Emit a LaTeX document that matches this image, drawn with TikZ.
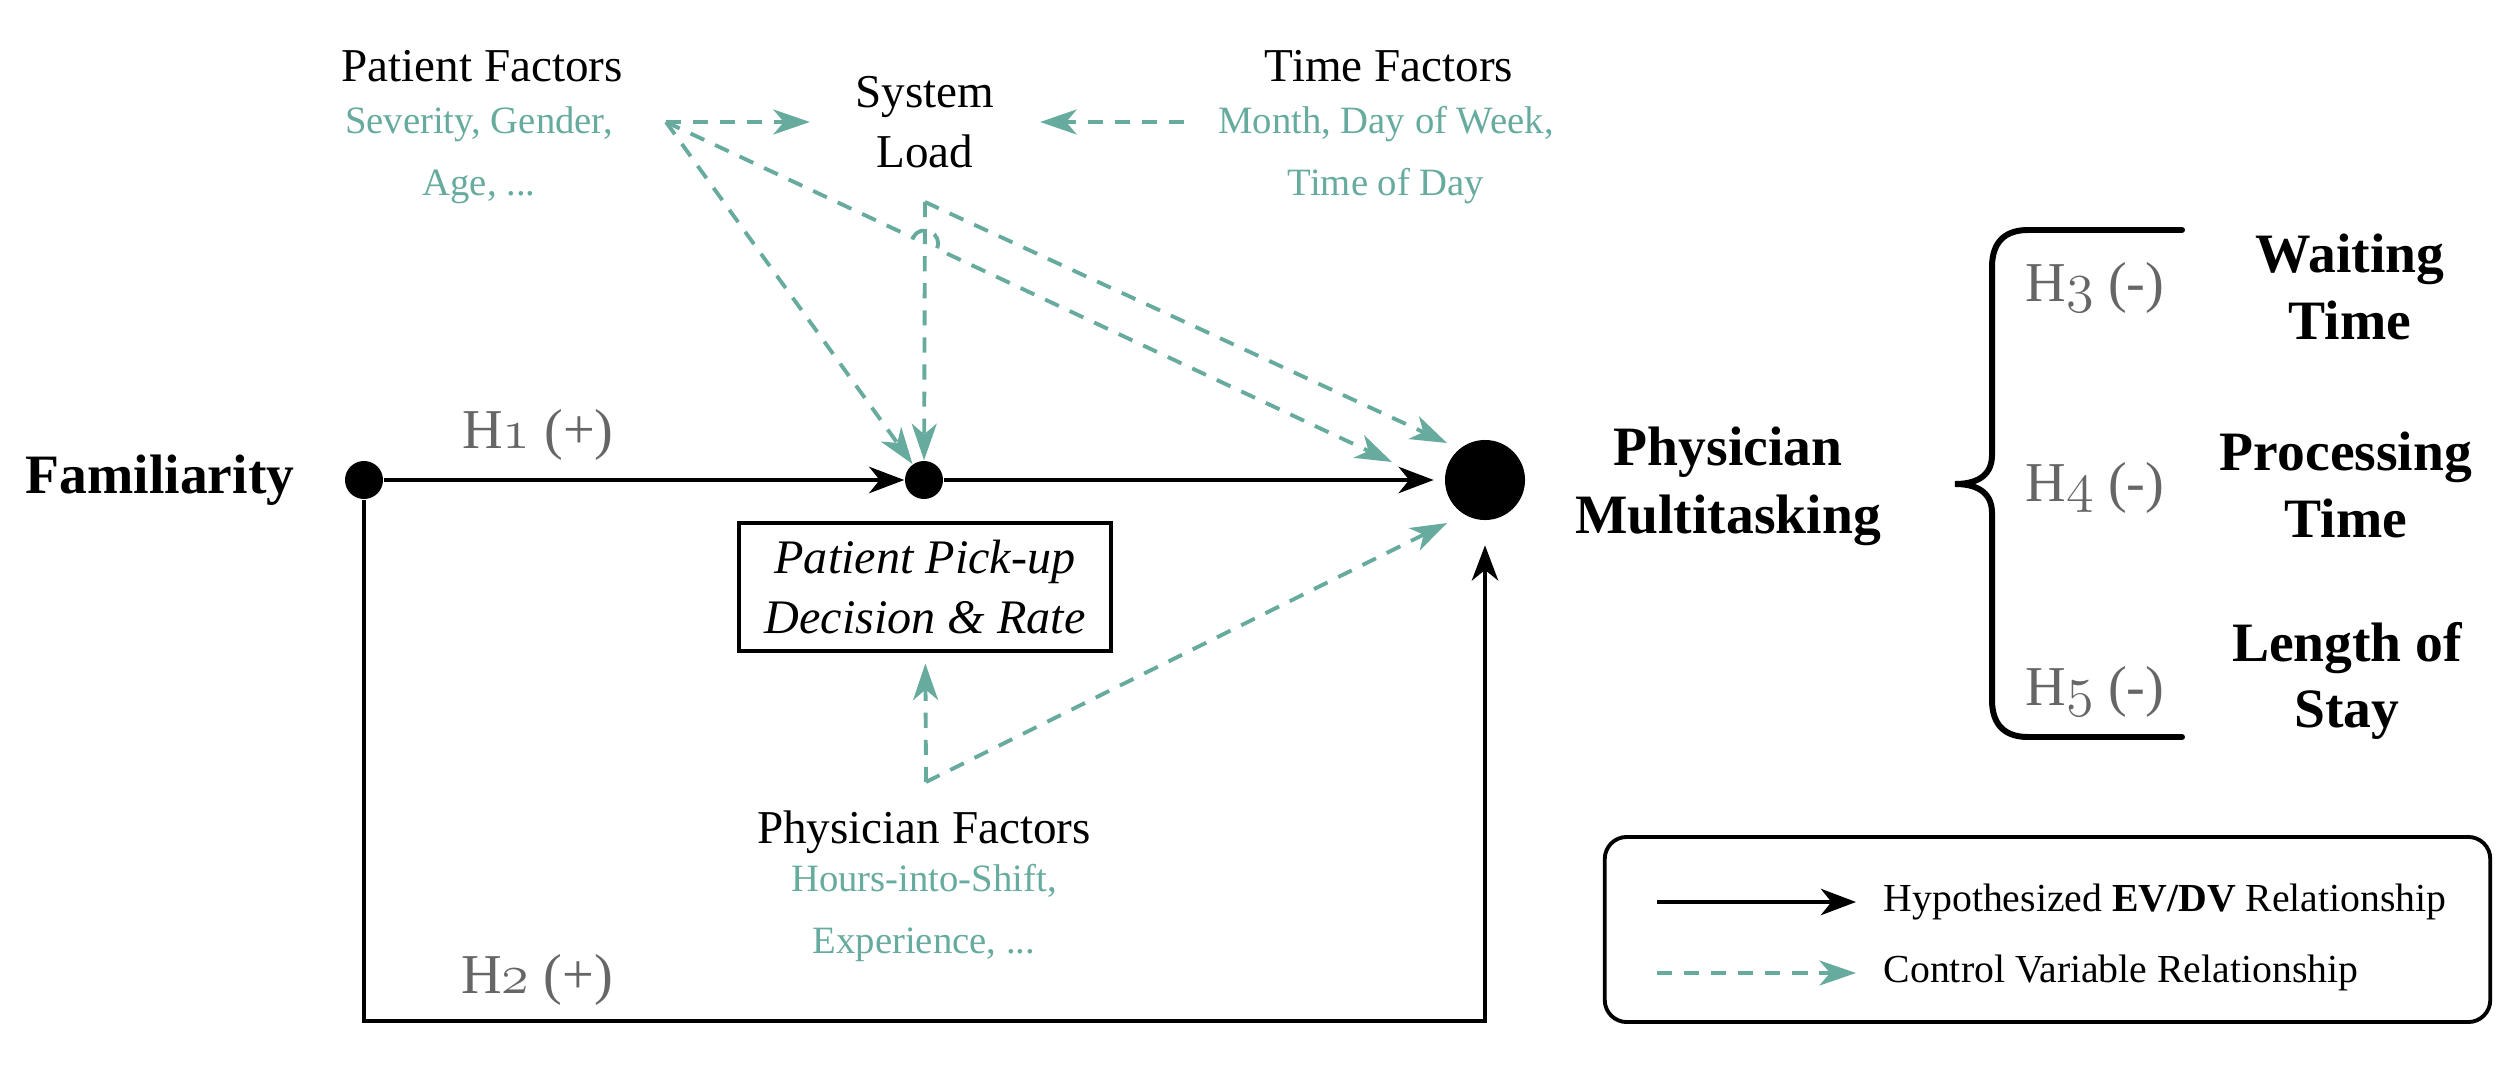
\documentclass[tikz,border=0pt]{standalone}
\usepackage{fix-cm}
\usepackage{fontspec}
\setmainfont{Liberation Serif}
\usetikzlibrary{arrows.meta}
\definecolor{tgreen}{HTML}{67AB9F}
\definecolor{hgray}{HTML}{666666}
\newcommand{\osn}[1]{$\mathnormal{#1}$}
\tikzset{
  dot/.style={circle, fill=black, inner sep=0pt},
  lab/.style={inner sep=0pt, align=center, font=\fontsize{13.4}{17}\selectfont},
  det/.style={inner sep=0pt, align=center, text=tgreen, font=\fontsize{11}{17.6}\selectfont},
  bigtxt/.style={inner sep=0pt, align=center, font=\fontsize{15.8}{19.3}\selectfont\bfseries},
  outc/.style={inner sep=0pt, align=center, font=\fontsize{15.8}{19}\selectfont\bfseries},
  hlab/.style={inner sep=0pt, text=hgray, font=\fontsize{16}{19}\selectfont},
  pickbox/.style={draw, line width=1.1pt, inner sep=0pt, align=center, minimum width=3.71cm, minimum height=1.28cm, font=\fontsize{13.7}{17}\selectfont\itshape},
  leg/.style={inner sep=0pt, anchor=west, font=\fontsize{11.3}{14}\selectfont},
  hyp/.style={line width=1.15pt, -{Stealth[length=10pt,width=7.5pt,inset=3pt]}},
  ctrl/.style={draw=tgreen, line width=1.1pt, dash pattern=on 4.3pt off 3.4pt, -{Stealth[length=10.4pt,width=7.1pt,inset=3pt,fill=tgreen]}},
}
\begin{document}
\begin{tikzpicture}[x=0.01cm,y=-0.01cm]
\useasboundingbox (0,0) rectangle (2512,1076);

% dots
\node[dot, minimum size=0.38cm] (famdot) at (364,480) {};
\node[dot, minimum size=0.38cm] (mid) at (924,480) {};
\node[dot, minimum size=0.80cm] (big) at (1485,480) {};

% main labels
\node[bigtxt] (famtxt) at (160,480) {Familiarity};
\node[bigtxt] (pm) at (1728,486) {Physician\\Multitasking};
\node[hlab] (h1) at (538,435) {H\osn{1} (+)};
\node[hlab] (h2) at (537,980) {H\osn{2} (+)};
\node[pickbox] (pick) at (925,587) {Patient Pick-up\\Decision \& Rate};

% factor labels
\node[lab] (pft) at (482,66) {Patient Factors};
\node[det] (pfd) at (479,155) {Severity, Gender,\\Age, ...};
\node[lab, inner xsep=0.45cm] (sl) at (925,122) {System\\Load};
\node[lab] (tft) at (1389,66) {Time Factors};
\node[det] (tfd) at (1386,155) {Month, Day of Week,\\Time of Day};
\node[lab] (phft) at (924,832) {Physician Factors};
\node[det] (phfd) at (924,913) {Hours-into-Shift,\\Experience, ...};

% coordinates
\coordinate (pfs) at (666,122);
\coordinate (sls) at (925,202);
\coordinate (phs) at (926,782);
\coordinate (tfs) at (1184,122);
\coordinate (pbtip) at (1392,462);
\coordinate (sbtip) at (1447,443);
\coordinate (phbtip) at (1447,523);
\coordinate (h2c) at (364,1021);
\coordinate (jA) at (913.2,237.8);
\coordinate (jB) at (936.8,248.8);
\coordinate (jc1) at (920.4,222.4);
\coordinate (jc2) at (944.0,233.4);

% control arrows
\draw[ctrl] (pfs) -- (sl);
\draw[ctrl] (tfs) -- (sl);
\draw[ctrl] (pfs) -- (mid);
\draw[ctrl] (sls) -- (mid);
\draw[ctrl] (sls) -- (sbtip);
\draw[ctrl] (pfs) -- (jA) .. controls (jc1) and (jc2) .. (jB) -- (pbtip);
\draw[ctrl, shorten >=3pt] (phs) -- (pick);
\draw[ctrl] (phs) -- (phbtip);

% hypothesized arrows
\draw[hyp] (famdot) -- (mid);
\draw[hyp, shorten >=3pt] (mid) -- (big);
\draw[hyp, shorten >=7pt] (famdot) -- (h2c) -| (big);

% brace
\draw[line width=1.7pt, line cap=round] (2182,230) -- (2028,230) .. controls (2005,230) and (1992,242) .. (1992,267) -- (1992,455) .. controls (1992,477) and (1975,484) .. (1955,484) .. controls (1975,484) and (1992,491) .. (1992,513) -- (1992,700) .. controls (1992,725) and (2005,737) .. (2028,737) -- (2182,737);

\node[hlab] (h3) at (2095,288) {H\osn{3} (-)};
\node[hlab] (h4) at (2095,488) {H\osn{4} (-)};
\node[hlab] (h5) at (2095,692) {H\osn{5} (-)};
\node[outc] (wt) at (2350,287) {Waiting\\Time};
\node[outc] (pt) at (2346,485) {Processing\\Time};
\node[outc] (los) at (2347,681) {Length of\\Stay};

% legend
\node[draw, rounded corners=0.22cm, line width=1.1pt, minimum width=8.85cm, minimum height=1.85cm, inner sep=0pt] (legend) at (2047.5,929.5) {};
\coordinate (l1a) at (1657,902);
\coordinate (l1b) at (1856,902);
\coordinate (l2a) at (1657,973);
\coordinate (l2b) at (1856,973);
\draw[hyp] (l1a) -- (l1b);
\draw[ctrl] (l2a) -- (l2b);
\node[leg] (l1t) at (1883,902) {Hypothesized \textbf{EV/DV} Relationship};
\node[leg] (l2t) at (1883,973) {Control Variable Relationship};
\end{tikzpicture}
\end{document}
